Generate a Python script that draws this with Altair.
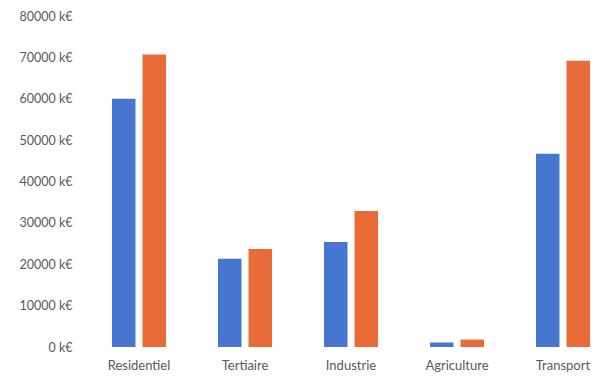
import altair as alt
import pandas as pd

categories = ["Residentiel", "Tertiaire", "Industrie", "Agriculture", "Transport"]
series_names = ["Série 1", "Série 2"]
serie_1 = [60000, 21300, 25400, 1100, 46700]
serie_2 = [70700, 23700, 32900, 1800, 69200]
y_ticks = [0, 10000, 20000, 30000, 40000, 50000, 60000, 70000, 80000]
colors = ["#4676CF", "#E96C38"]

rows = []
for c, a, b in zip(categories, serie_1, serie_2):
    rows.append({"secteur": c, "serie": series_names[0], "valeur": a})
    rows.append({"secteur": c, "serie": series_names[1], "valeur": b})
df = pd.DataFrame(rows)

FONT = "Lato"
GREY = "#595959"

chart = alt.Chart(df).mark_bar().encode(
    x=alt.X(
        "secteur:N",
        sort=categories,
        scale=alt.Scale(range=[0, 530], paddingInner=0.49, paddingOuter=0.245),
        axis=alt.Axis(
            title=None, labelAngle=0, domain=False, ticks=False,
            labelFont=FONT, labelFontSize=13, labelColor=GREY, labelPadding=12,
        ),
    ),
    xOffset=alt.XOffset("serie:N", sort=series_names, scale=alt.Scale(paddingInner=0.23)),
    y=alt.Y(
        "valeur:Q",
        scale=alt.Scale(domain=[0, 80000], nice=False),
        axis=alt.Axis(
            values=y_ticks, labelExpr="datum.value + ' k€'", grid=False,
            domain=False, ticks=False, title=None, labelPadding=14,
            labelFont=FONT, labelFontSize=12.5, labelColor=GREY,
        ),
    ),
    color=alt.Color("serie:N", sort=series_names, scale=alt.Scale(domain=series_names, range=colors), legend=None),
).properties(
    width=509,
    height=331,
    autosize=alt.AutoSizeParams(type="none"),
    padding={"left": 86, "top": 16, "right": 0, "bottom": 29},
).configure_view(stroke=None)

chart.save("out.html", embed_options={"renderer": "svg", "actions": False})
